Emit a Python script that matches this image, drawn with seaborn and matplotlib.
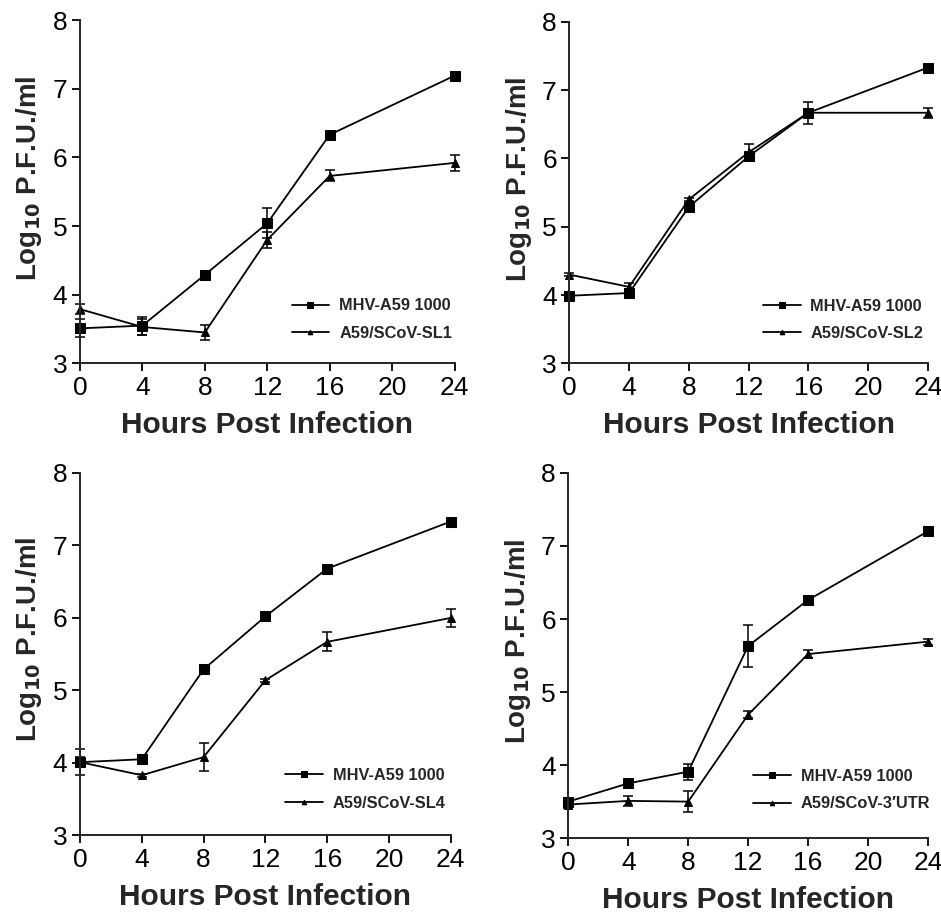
import numpy as np
import matplotlib
matplotlib.use("Agg")
import matplotlib.pyplot as plt
import seaborn as sns

hours = [0, 4, 8, 12, 16, 24]

# panel 1
mhv_1 = [3.51, 3.55, 4.29, 5.04, 6.33, 7.19]
mhv_1_err = [0.13, 0.13, 0.02, 0.22, 0.02, 0.02]
sl1 = [3.79, 3.53, 3.45, 4.80, 5.73, 5.92]
sl1_err = [0.07, 0.11, 0.11, 0.12, 0.08, 0.12]

# panel 2
mhv_2 = [3.99, 4.03, 5.29, 6.03, 6.67, 7.33]
mhv_2_err = [0.06, 0.05, 0.03, 0.05, 0.16, 0.02]
sl2 = [4.30, 4.12, 5.40, 6.09, 6.67, 6.67]
sl2_err = [0.02, 0.05, 0.02, 0.12, 0.02, 0.07]

# panel 3
mhv_3 = [4.01, 4.05, 5.29, 6.02, 6.68, 7.33]
mhv_3_err = [0.07, 0.06, 0.03, 0.06, 0.02, 0.02]
sl4 = [4.01, 3.83, 4.08, 5.14, 5.67, 6.00]
sl4_err = [0.18, 0.02, 0.19, 0.02, 0.13, 0.12]

# panel 4
mhv_4 = [3.50, 3.75, 3.91, 5.63, 6.26, 7.20]
mhv_4_err = [0.05, 0.05, 0.11, 0.29, 0.03, 0.02]
utr = [3.46, 3.51, 3.50, 4.69, 5.52, 5.69]
utr_err = [0.05, 0.07, 0.14, 0.05, 0.05, 0.04]

mutant_names = ["A59/SCoV-SL1", "A59/SCoV-SL2", "A59/SCoV-SL4", "A59/SCoV-3\u2032UTR"]
wt_name = "MHV-A59 1000"

panels = [
    (mhv_1, mhv_1_err, sl1, sl1_err),
    (mhv_2, mhv_2_err, sl2, sl2_err),
    (mhv_3, mhv_3_err, sl4, sl4_err),
    (mhv_4, mhv_4_err, utr, utr_err),
]

sns.set_style("ticks")
plt.rcParams["font.family"] = ["Liberation Sans", "DejaVu Sans"]

fig = plt.figure(figsize=(9.41, 9.13), dpi=100)
# axes boxes in figure fractions
boxes = [
    [0.085, 0.602, 0.398, 0.376],
    [0.605, 0.602, 0.381, 0.374],
    [0.085, 0.085, 0.394, 0.397],
    [0.604, 0.082, 0.382, 0.400],
]
# legend anchor (handle start, middle of the two rows) in axes fractions
legend_pos = [(0.565, 0.128), (0.54, 0.128), (0.553, 0.127), (0.514, 0.131)]

for i, (wt, wt_err, mut, mut_err) in enumerate(panels):
    ax = fig.add_axes(boxes[i])
    sns.lineplot(x=hours, y=wt, ax=ax, color="black", marker="s", markersize=7,
                 markeredgecolor="black", linewidth=1.3, label=wt_name)
    sns.lineplot(x=hours, y=mut, ax=ax, color="black", marker="^", markersize=6,
                 markeredgecolor="black", linewidth=1.3, label=mutant_names[i])
    ax.errorbar(hours, wt, yerr=wt_err, fmt="none", ecolor="black", elinewidth=1.1,
                capsize=3.5, capthick=1.1, clip_on=False)
    ax.errorbar(hours, mut, yerr=mut_err, fmt="none", ecolor="black", elinewidth=1.1,
                capsize=3.5, capthick=1.1, clip_on=False)
    for ln in ax.lines:
        ln.set_clip_on(False)

    ax.set_xlim(0, 24)
    ax.set_ylim(3, 8)
    ax.set_xticks([0, 4, 8, 12, 16, 20, 24])
    ax.set_yticks([3, 4, 5, 6, 7, 8])
    ax.tick_params(axis="both", labelsize=19, length=6, width=1.3, direction="out",
                   colors="black", pad=3)
    for s in ["left", "bottom"]:
        ax.spines[s].set_linewidth(1.4)
    sns.despine(ax=ax)
    ax.set_xlabel("Hours Post Infection", fontsize=21.5, fontweight="bold", labelpad=8)
    ax.set_ylabel(r"Log$_{\mathbf{10}}$ P.F.U./ml", fontsize=20, fontweight="bold", labelpad=6)
    ax.yaxis.label.set_y(0.54)

    ax.legend(loc="center left", bbox_to_anchor=legend_pos[i], frameon=False,
              prop={"weight": "bold", "size": 11.8}, markerscale=0.55,
              handlelength=2.3, handletextpad=0.6, labelspacing=0.75,
              borderpad=0, borderaxespad=0)

plt.savefig("out.png", dpi=100)
